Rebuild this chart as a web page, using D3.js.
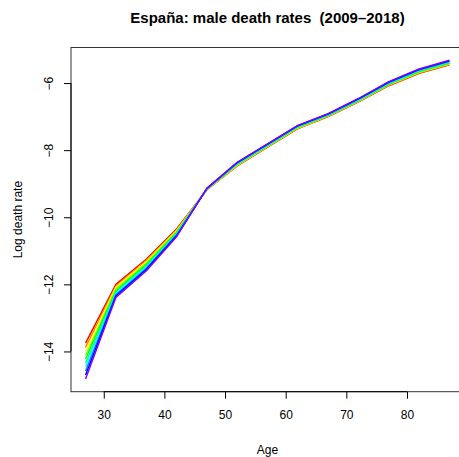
<!DOCTYPE html>
<html>
<head>
<meta charset="utf-8">
<script src="https://cdn.jsdelivr.net/npm/d3@7"></script>
<style>
  html, body { margin: 0; padding: 0; background: #fff; }
  svg { display: block; font-family: "Liberation Sans", Arial, sans-serif; }
  .title { white-space: pre; }
</style>
</head>
<body>
<svg id="chart" width="459" height="457"></svg>
<script>
// Age groups (midpoints) and calendar years
const ages = [27, 32, 37, 42, 47, 52, 57, 62, 67, 72, 77, 82, 87];
const years = [2009, 2010, 2011, 2012, 2013, 2014, 2015, 2016, 2017, 2018];

// Log male death rates, one array per year, ordered by age
const rate2009 = [-13.75, -12.00, -11.25, -10.35, -9.18, -8.47, -7.91, -7.36, -7.00, -6.56, -6.08, -5.71, -5.46];
const rate2010 = [-13.88, -12.05, -11.29, -10.38, -9.18, -8.46, -7.90, -7.35, -6.99, -6.55, -6.07, -5.70, -5.45];
const rate2011 = [-13.98, -12.09, -11.33, -10.40, -9.17, -8.45, -7.89, -7.34, -6.98, -6.54, -6.05, -5.68, -5.43];
const rate2012 = [-14.12, -12.14, -11.37, -10.43, -9.17, -8.43, -7.88, -7.33, -6.97, -6.53, -6.04, -5.67, -5.42];
const rate2013 = [-14.22, -12.19, -11.41, -10.46, -9.16, -8.42, -7.87, -7.31, -6.96, -6.52, -6.03, -5.65, -5.40];
const rate2014 = [-14.35, -12.23, -11.45, -10.48, -9.16, -8.41, -7.86, -7.30, -6.95, -6.51, -6.02, -5.64, -5.39];
const rate2015 = [-14.45, -12.27, -11.49, -10.51, -9.15, -8.40, -7.85, -7.29, -6.94, -6.50, -6.00, -5.62, -5.37];
const rate2016 = [-14.58, -12.31, -11.53, -10.53, -9.15, -8.38, -7.83, -7.28, -6.93, -6.48, -5.99, -5.61, -5.35];
const rate2017 = [-14.70, -12.35, -11.56, -10.56, -9.14, -8.37, -7.82, -7.27, -6.92, -6.47, -5.97, -5.59, -5.34];
const rate2018 = [-14.82, -12.39, -11.60, -10.58, -9.14, -8.36, -7.81, -7.26, -6.91, -6.46, -5.96, -5.58, -5.32];
const rates = [rate2009, rate2010, rate2011, rate2012, rate2013, rate2014, rate2015, rate2016, rate2017, rate2018];

// Tick values and text
const xTicks = [30, 40, 50, 60, 70, 80];
const yTicks = [-14, -12, -10, -8, -6];
const titleText = "España: male death rates  (2009–2018)";
const xLabel = "Age";
const yLabel = "Log death rate";

// Plot region
const plot = { left: 71, right: 464, top: 47.5, bottom: 391.7 };

// Axis limits padded by 4% on each side
function padded(ext) {
  const d = (ext[1] - ext[0]) * 0.04;
  return [ext[0] - d, ext[1] + d];
}
const x = d3.scaleLinear().domain(padded(d3.extent(ages))).range([plot.left, plot.right]);
const y = d3.scaleLinear().domain(padded(d3.extent(rates.flat()))).range([plot.bottom, plot.top]);

// Rainbow palette: hues in 30 degree steps from red to violet
const colors = years.map((_, i) => d3.hsl(i * 30, 1, 0.5).formatHex());

const svg = d3.select("#chart");

// Series lines
const line = d3.line().x((d, i) => x(ages[i])).y(d => y(d));
svg.append("g")
  .selectAll("path")
  .data(rates)
  .join("path")
  .attr("d", line)
  .attr("fill", "none")
  .attr("stroke", (d, i) => colors[i])
  .attr("stroke-width", 1.4)
  .attr("stroke-linejoin", "round");

// Plot box
svg.append("rect")
  .attr("x", plot.left)
  .attr("y", plot.top)
  .attr("width", plot.right - plot.left)
  .attr("height", plot.bottom - plot.top)
  .attr("fill", "none")
  .attr("stroke", "#333")
  .attr("stroke-width", 1);

// X axis
const xAxis = d3.axisBottom(x).tickValues(xTicks).tickSize(7).tickPadding(12).tickFormat(d3.format("d"));
const gx = svg.append("g").attr("transform", `translate(0,${plot.bottom})`).call(xAxis);
gx.select(".domain").attr("d", `M${x(xTicks[0])},0H${x(xTicks[xTicks.length - 1])}`);
gx.selectAll("text").attr("font-size", 12).attr("fill", "#000")
  .attr("font-family", "Liberation Sans, Arial, sans-serif");

// Y axis with rotated labels
const yAxis = d3.axisLeft(y).tickValues(yTicks).tickSize(7).tickFormat(d => d < 0 ? "\u2212" + Math.abs(d) : d);
const gy = svg.append("g").attr("transform", `translate(${plot.left},0)`).call(yAxis);
gy.select(".domain").attr("d", `M0,${y(yTicks[0])}V${y(yTicks[yTicks.length - 1])}`);
gy.selectAll(".tick text")
  .attr("x", null).attr("dy", null)
  .attr("text-anchor", "middle")
  .attr("transform", "translate(-18,0) rotate(-90)")
  .attr("font-size", 12).attr("fill", "#000")
  .attr("font-family", "Liberation Sans, Arial, sans-serif");

const cx = (plot.left + plot.right) / 2;

// Title
svg.append("text")
  .attr("class", "title")
  .attr("x", cx).attr("y", 23)
  .attr("text-anchor", "middle")
  .attr("font-size", 15).attr("font-weight", "bold")
  .text(titleText);

// Axis titles
svg.append("text")
  .attr("x", cx).attr("y", 454)
  .attr("text-anchor", "middle")
  .attr("font-size", 12)
  .text(xLabel);

svg.append("text")
  .attr("transform", `translate(22,${(plot.top + plot.bottom) / 2}) rotate(-90)`)
  .attr("text-anchor", "middle")
  .attr("font-size", 12)
  .text(yLabel);
</script>
</body>
</html>
